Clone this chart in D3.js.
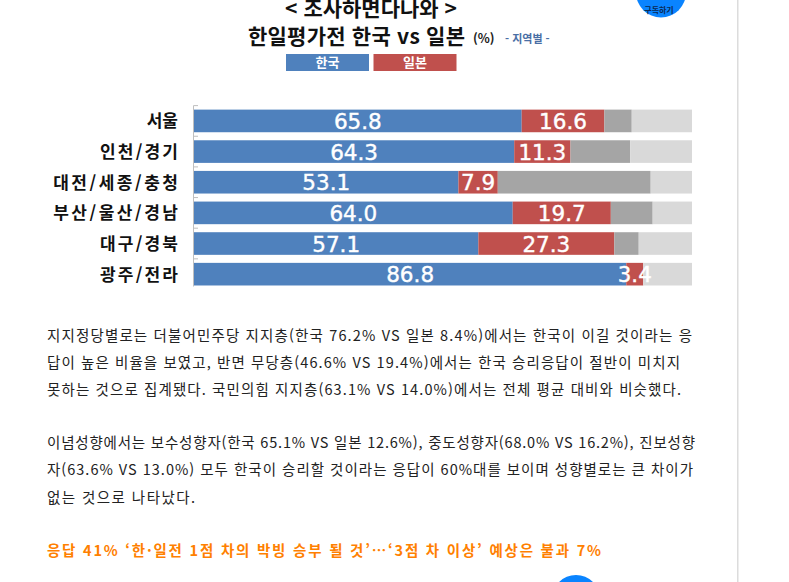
<!DOCTYPE html>
<html lang="ko">
<head>
<meta charset="utf-8">
<script src="https://cdn.jsdelivr.net/npm/d3@7"></script>
<style>
html,body{margin:0;padding:0;background:#fff;overflow:hidden}
svg{display:block}
text{font-family:"Noto Sans CJK KR","Noto Sans",sans-serif}
</style>
</head>
<body>
<svg id="c" width="789" height="582"></svg>
<script>
const regions = ["서울","인천/경기","대전/세종/충청","부산/울산/경남","대구/경북","광주/전라"];
const korea = [65.8,64.3,53.1,64.0,57.1,86.8];
const japan = [16.6,11.3,7.9,19.7,27.3,3.4];
const grayDark = [5.5,12.0,30.7,8.4,4.9,0];
const grayLight = [12.1,12.4,8.3,7.9,10.7,9.8];
const seriesColors = ["#4f81bd","#c0504d","#a5a5a5","#d9d9d9"];
const legendLabels = ["한국","일본"];
const title1 = "< 조사하면다나와 >";
const title2 = "한일평가전 한국 vs 일본";
const bodyLines = [
 ["지지정당별로는 더불어민주당 지지층(한국 76.2% VS 일본 8.4%)에서는 한국이 이길 것이라는 응",335,645],
 ["답이 높은 비율을 보였고, 반면 무당층(46.6% VS 19.4%)에서는 한국 승리응답이 절반이 미치지",362,633],
 ["못하는 것으로 집계됐다. 국민의힘 지지층(63.1% VS 14.0%)에서는 전체 평균 대비와 비슷했다.",389,634],
 ["이념성향에서는 보수성향자(한국 65.1% VS 일본 12.6%), 중도성향자(68.0% VS 16.2%), 진보성향",442,648],
 ["자(63.6% VS 13.0%) 모두 한국이 승리할 것이라는 응답이 60%대를 보이며 성향별로는 큰 차이가",469,646],
 ["없는 것으로 나타났다.",497,148]
];
const headline = "응답 41% ‘한·일전 1점 차의 박빙 승부 될 것’…‘3점 차 이상’ 예상은 불과 7%";

const svg = d3.select("#c");
const x = d3.scaleLinear().domain([0,100]).range([194,692]);
const y = d3.scaleBand().domain(regions).range([105.6,289.5]).paddingInner(0.262).paddingOuter(0.131);

const rows = regions.map((r,i)=>({r,v:[korea[i],japan[i],grayDark[i],grayLight[i]]}));
const g = svg.append("g"), labels = svg.append("g");
rows.forEach(row=>{
  let acc=0;
  row.v.forEach((val,k)=>{
    if(val>0){
      g.append("rect").attr("x",x(acc)).attr("y",y(row.r))
       .attr("width",x(acc+val)-x(acc)).attr("height",y.bandwidth())
       .attr("fill",seriesColors[k]);
      if(k<2){
        labels.append("text").attr("x",x(acc+val/2)).attr("y",y(row.r)+y.bandwidth()/2+8)
         .attr("text-anchor","middle").attr("fill","#fff").attr("stroke","#fff").attr("stroke-width",0.4)
         .style("font-family","'DejaVu Sans'").style("font-size","21.5px").text(val.toFixed(1));
      }
    }
    acc+=val;
  });
});
// axis line with ticks
const top0=y(regions[0])-y.step()*0.131;
const bottom=y(regions[5])+y.bandwidth()+1;
svg.append("line").attr("x1",193.5).attr("x2",193.5).attr("y1",top0).attr("y2",bottom).attr("stroke","#bfbfbf");
regions.forEach(r=>{
  const ty=y(r)-y.step()*0.131;
  svg.append("line").attr("x1",193.5).attr("x2",198).attr("y1",ty).attr("y2",ty).attr("stroke","#bfbfbf");
});
// category labels
svg.selectAll("text.cat").data(regions).join("text").attr("class","cat")
 .attr("x",d=>178-d.length*15.6).attr("y",d=>y(d)+y.bandwidth()/2+6.5)
 .attr("textLength",d=>d.length*15.6).attr("lengthAdjust","spacing")
 .attr("font-weight",700).attr("font-size",17).attr("fill","#111").text(d=>d);

// titles
svg.append("text").attr("x",371).attr("y",16).attr("text-anchor","middle").attr("font-weight",700)
 .attr("font-size",21).attr("fill","#111").text(title1);
svg.append("text").attr("x",248).attr("y",44).attr("font-weight",700).attr("font-size",21).attr("textLength",217).attr("fill","#111").text(title2);
svg.append("text").attr("x",473).attr("y",43).attr("font-weight",700).attr("font-size",12.5).attr("fill","#222").text("(%)");
svg.append("text").attr("x",505).attr("y",43).attr("font-weight",700).attr("font-size",11).attr("fill","#4a6fa5").text("- 지역별 -");

// legend
legendLabels.forEach((l,i)=>{
  const lx=[286,373.5][i];
  svg.append("rect").attr("x",lx).attr("y",54).attr("width",83).attr("height",17).attr("fill",seriesColors[i]);
  svg.append("text").attr("x",lx+41.5).attr("y",67).attr("text-anchor","middle").attr("fill","#fff")
   .attr("font-weight",700).attr("font-size",13).text(l);
});

// badge circles
svg.append("circle").attr("cx",661).attr("cy",-7.5).attr("r",25).attr("fill","#0a84ff");
svg.append("text").attr("x",659).attr("y",12.5).attr("text-anchor","middle").attr("font-size",8).attr("font-weight",700).attr("fill","#0b2a55").text("구독하기");
svg.append("circle").attr("cx",576).attr("cy",599).attr("r",24).attr("fill","#0a84ff");

// side rule
svg.append("rect").attr("x",737).attr("y",0).attr("width",1.5).attr("height",582).attr("fill","#dcdcdc");

// body
bodyLines.forEach(([t,by,w])=>{
  svg.append("text").attr("x",47).attr("y",by+5.5).attr("font-size",14.5).attr("fill","#222")
   .attr("textLength",w).attr("lengthAdjust","spacing").text(t);
});
svg.append("text").attr("x",47).attr("y",555.5).attr("font-size",14.5).attr("font-weight",700).attr("fill","#ff8000")
 .attr("textLength",554).attr("lengthAdjust","spacing").text(headline);
</script>
</body>
</html>
